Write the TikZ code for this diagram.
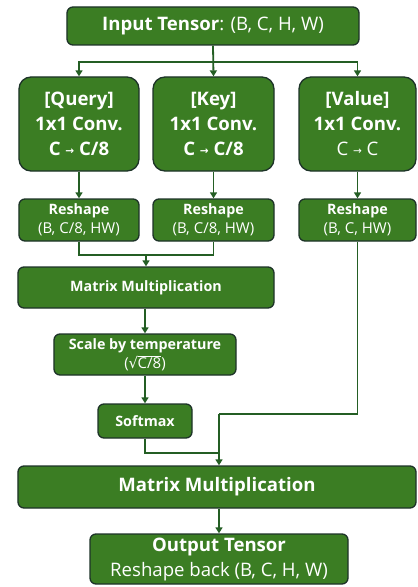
\documentclass[tikz,border=0pt]{standalone}
\usepackage{fontspec}
\setmainfont{Open Sans}
\newfontfamily\dvfont{DejaVu Sans}
\usetikzlibrary{arrows.meta}
\definecolor{boxfill}{HTML}{3B7D23}
\definecolor{boxedge}{HTML}{1D3328}
\definecolor{linecol}{HTML}{245E24}
\newcommand{\rarr}{\raisebox{1.2bp}{\dvfont\fontsize{10.5bp}{10bp}\selectfont →}}
\newcommand{\sqroot}[1]{{\dvfont √}\kern-0.6bp\vbox{\hrule height 0.8bp \kern0.8bp \hbox{#1}}}
\newcommand{\lblfont}{\fontsize{14.3bp}{17bp}\selectfont}
\tikzset{
  gbox/.style={draw=boxedge, line width=1.3bp, fill=boxfill, text=white, rounded corners=6bp, align=center, inner sep=0pt},
  big/.style={font=\fontsize{18.6bp}{25bp}\selectfont},
  mid/.style={font=\fontsize{15bp}{19bp}\selectfont},
  small/.style={font=\lblfont},
  conn/.style={draw=linecol, line width=1.8bp},
  arr/.style={conn, -{Triangle[length=6bp,width=7bp]}},
}
\begin{document}
\begin{tikzpicture}[x=1bp,y=-1bp]
\useasboundingbox (0,0) rectangle (417,587);
\node[gbox, big, minimum width=292bp, minimum height=38bp] (in) at (213,26) {\textbf{Input Tensor}: (B, C, H, W)};
\node[gbox, big, rounded corners=12bp, minimum width=120bp, minimum height=94bp] (q) at (79,124) {\textbf{[Query]}\\\textbf{1x1 Conv.}\\\textbf{C \rarr{} C/8}};
\node[gbox, big, rounded corners=12bp, minimum width=121bp, minimum height=94bp] (k) at (213.5,124) {\textbf{[Key]}\\\textbf{1x1 Conv.}\\\textbf{C \rarr{} C/8}};
\node[gbox, big, rounded corners=12bp, minimum width=117bp, minimum height=94bp] (v) at (357.5,124) {\textbf{[Value]}\\\textbf{1x1 Conv.}\\C \rarr{} C};
\node[gbox, mid, minimum width=120bp, minimum height=42bp] (rq) at (79,220) {{\lblfont\textbf{Reshape}}\\(B, C/8, HW)};
\node[gbox, mid, minimum width=121bp, minimum height=42bp] (rk) at (213.5,220) {{\lblfont\textbf{Reshape}}\\(B, C/8, HW)};
\node[gbox, mid, minimum width=117bp, minimum height=42bp] (rv) at (357.5,220) {{\lblfont\textbf{Reshape}}\\(B, C, HW)};
\node[gbox, small, minimum width=256bp, minimum height=41bp] (m1) at (146,287.5) {\textbf{Matrix Multiplication}};
\node[gbox, mid, minimum width=182bp, minimum height=41bp] (sc) at (145,354.5) {{\lblfont\textbf{Scale by temperature}}\\(\sqroot{C/8})};
\node[gbox, small, minimum width=94bp, minimum height=34bp] (sm) at (145,421) {\textbf{Softmax}};
\node[gbox, big, minimum width=398bp, minimum height=42bp] (m2) at (217,487) {\textbf{Matrix Multiplication}};
\node[gbox, big, minimum width=258bp, minimum height=50bp] (out) at (219,559) {\textbf{Output Tensor}\\Reshape back (B, C, H, W)};
\coordinate (b1) at (213,62);
\coordinate (j1) at (146,255);
\coordinate (j2) at (219,414);
\coordinate (j3) at (219,453);
\draw[arr] (in.south) -- (k.north);
\draw[arr] (b1) -| (q.north);
\draw[arr] (b1) -| (v.north);
\draw[arr] (q.south) -- (rq.north);
\draw[arr] (k.south) -- (rk.north);
\draw[arr] (v.south) -- (rv.north);
\draw[conn] (rq.south) |- (j1) -| (rk.south);
\draw[arr] (j1) -- (j1 |- m1.north);
\draw[arr] (m1.south -| sc) -- (sc.north);
\draw[arr] (sc.south) -- (sm.north);
\draw[conn] (rv.south) |- (j2);
\draw[conn] (sm.south) |- (j3);
\draw[arr] (j2) -- (j2 |- m2.north);
\draw[arr] (m2.south -| out) -- (out.north);
\end{tikzpicture}
\end{document}
